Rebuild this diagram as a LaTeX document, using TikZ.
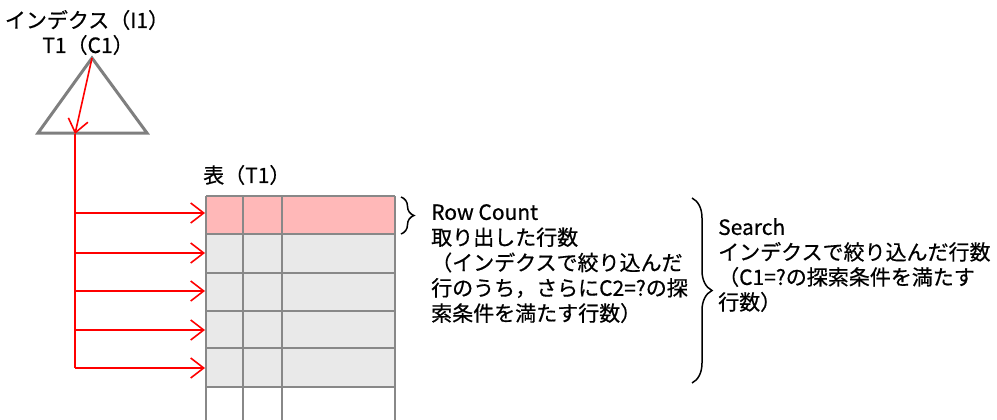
\documentclass[tikz,border=0pt]{standalone}
\usepackage{fontspec}
\setmainfont{Noto Sans CJK JP}[FakeBold=0.6]
\usetikzlibrary{arrows.meta,decorations.pathreplacing,positioning}
\definecolor{hitrow}{HTML}{FFB8B8}
\definecolor{scanrow}{HTML}{E9E9E9}
\definecolor{gridline}{HTML}{888888}
\definecolor{treeline}{HTML}{7F7F7F}

\begin{document}
\begin{tikzpicture}[x=1pt,y=-1pt]
    \tikzstyle{txt} = [inner sep=0pt, font=\fontsize{21}{25.3}\selectfont, align=left]
    \tikzstyle{cell} = [draw=gridline, line width=1.5pt]
    \tikzstyle{arrow} = [red, line width=1.6pt, -{Straight Barb[length=13pt,width=20pt]}]
    \tikzstyle{curly} = [decorate, decoration={brace, amplitude=13pt}, line width=1.5pt]

    \useasboundingbox (0,0) rectangle (997,420);

    % index tree
    \node (idxname) [txt] at (87,20) {インデクス（I1）};
    \node (idxkey) [txt] at (88,45) {T1（C1）};
    \coordinate (apex) at (92,58);
    \coordinate (baseL) at (38,133);
    \coordinate (baseR) at (147,133);
    \coordinate (leaf) at (75,134);
    \coordinate (trunk) at (75,368);
    \draw [treeline, line width=3pt, line join=miter] (apex) -- (baseL) -- (baseR) -- cycle;

    % table
    \node (tblname) [txt, anchor=west] at (203,175) {表（T1）};
    \fill [hitrow] (206,196) rectangle (395,234);
    \fill [scanrow] (206,234) rectangle (395,387);
    \foreach \y in {196,234,273,311,348,387}
        \draw [cell] (206,\y) -- (395,\y);
    \foreach \x in {206,243,282,395}
        \draw [cell] (\x,196) -- (\x,421);

    % access path
    \draw [arrow] (apex) -- (leaf);
    \draw [red, line width=1.6pt] (leaf) -- (trunk);
    \foreach \y [count=\i] in {213,253,291,330,368} {
        \coordinate (tap\i) at (75,\y);
        \coordinate (row\i) at (205,\y);
        \draw [arrow] (tap\i) -- (row\i);
    }

    % counts
    \draw [curly] (401,197) -- (401,234);
    \node (rowcount) [txt, anchor=north west] at (431,204) {Row Count\\取り出した行数\\（インデクスで絞り込んだ\\行のうち，さらにC2=?の探\\索条件を満たす行数）};
    \draw [curly, decoration={amplitude=20pt}] (692,198) -- (692,383);
    \node (search) [txt, anchor=north west, font=\fontsize{21}{25}\selectfont] at (718,218) {Search\\インデクスで絞り込んだ行数\\（C1=?の探索条件を満たす\\行数）};
\end{tikzpicture}
\end{document}
